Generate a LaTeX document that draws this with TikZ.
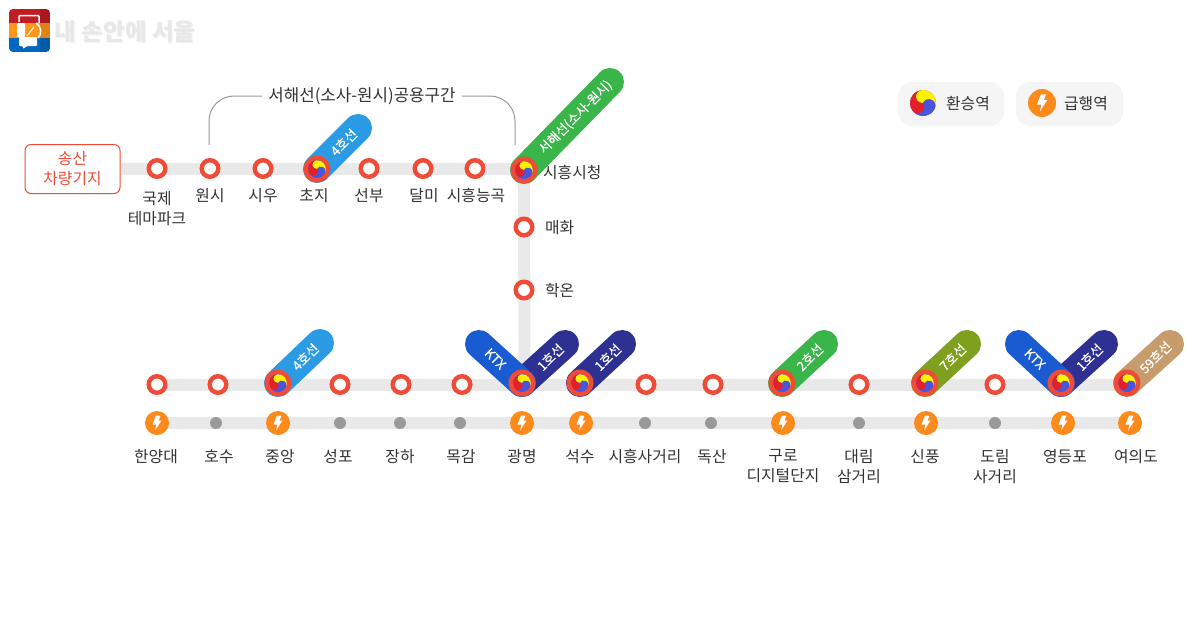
\documentclass[tikz,border=0pt]{standalone}
\usepackage{fontspec}
\setmainfont{Noto Sans CJK KR}
\newfontfamily\pillfont[FakeBold=0.4]{Noto Sans CJK KR}
\pgfdeclarelayer{bg}
\pgfsetlayers{bg,main}
\definecolor{rd}{HTML}{F04B37}
\definecolor{tk}{HTML}{E9E9E9}
\definecolor{ex}{HTML}{FF8A1C}
\definecolor{gy}{HTML}{999999}
\definecolor{tx}{HTML}{333333}
\definecolor{bl4}{HTML}{2B9BE5}
\definecolor{ktx}{HTML}{1B5BD2}
\definecolor{l1}{HTML}{2E3192}
\definecolor{gr}{HTML}{39B54A}
\definecolor{l7}{HTML}{7F9F1F}
\definecolor{l59}{HTML}{C69C6D}
\definecolor{ly}{HTML}{FFF200}
\definecolor{lr}{HTML}{E3202A}
\definecolor{lb}{HTML}{4A55DD}
\newcommand{\coma}[2]{\fill[#2] (0,0) arc[start angle=#1+180,delta angle=-180,radius=.5] arc[start angle=#1,delta angle=120,radius=1] arc[start angle=#1+120,delta angle=180,radius=.5] -- cycle;}
\tikzset{
 track/.style={draw=tk,line width=12pt},
 ringst/.style={circle,draw=rd,line width=4.4pt,fill=white,minimum size=16.6pt,inner sep=0pt},
 xferst/.style={circle,fill=rd,minimum size=27pt,inner sep=0pt},
 expst/.style={circle,fill=ex,minimum size=24pt,inner sep=0pt},
 dotst/.style={circle,fill=gy,minimum size=12pt,inner sep=0pt},
 lbl/.style={text=tx,font=\fontsize{15.8}{20}\selectfont,align=center,inner sep=0pt,anchor=north},
 sidelbl/.style={text=tx,font=\fontsize{15.8}{20}\selectfont,inner sep=0pt,anchor=west},
 pill/.style={line width=28pt,line cap=round,draw=#1},
 pilltxt/.style={text=white,font=\pillfont\fontsize{13}{13}\selectfont,inner sep=0pt},
 legbox/.style={fill=black!4,rounded corners=14pt,minimum height=44pt,inner sep=0pt},
 bracketln/.style={draw=gy,line width=1pt,rounded corners=25pt},
 taegeuk/.pic={\begin{scope}[x=8.8pt,y=8.8pt]\fill[lb] (0,0) circle (1);\coma{-25}{ly}\coma{215}{lb}\coma{95}{lr}\end{scope}},
 bolt/.pic={\fill[white] (-1,-7.5) -- (3.5,-7.5) -- (1.5,-2.5) -- (4.5,-2.5) -- (-2,7.5) -- (-.5,1.5) -- (-4.5,1.5) -- cycle;},
}
\newcommand{\pillline}[7]{% from node #1 to coord #2, colour #3, text #4, pos #5, rot #6, name #7
 \draw[pill=#3] (#1.center) -- (#2) node[pilltxt,pos=#5,rotate=#6] (#7) {#4};}
\begin{document}
\begin{tikzpicture}[x=1pt,y=-1pt]
\useasboundingbox (0,0) rectangle (1200,619);
% logo
\begin{scope}
 \clip[rounded corners=4pt] (9,9) rectangle (50,52);
 \fill[lr!85!black] (9,9) rectangle (50,23);
 \fill[ex!90!yellow] (9,23) rectangle (50,38);
 \fill[blue!45!cyan!75!black] (9,38) rectangle (50,52);
 \fill[black,opacity=.12] (40,9) rectangle (50,52);
 \draw[white,line width=1.5pt,rounded corners=1pt] (19,22) -- (19,15.5) -- (39,15.5) -- (39,23);
 \draw[white,line width=1.5pt] (36,23) .. controls (42,27) and (42,34) .. (38,38);
 \fill[white,rounded corners=1pt] (17,23) rectangle (25,37);
 \draw[white,line width=1pt] (27,36) -- (34,27);
 \fill[white,rounded corners=1pt] (19,37) -- (19,46) -- (23,46) -- (23,49) -- (27,46) -- (37,46) -- (37,37) -- cycle;
\end{scope}
\node[inner sep=0pt,text=black!5,font=\fontsize{23.5}{25}\selectfont\bfseries] at (126,33) {내 손안에 서울};
\node[inner sep=0pt,text=black!9,font=\fontsize{23.5}{25}\selectfont\bfseries] (logotext) at (125,32) {내 손안에 서울};
% legend
\node[legbox,minimum width=106pt] (legA) at (951,104) {};
\node[legbox,minimum width=107pt] (legB) at (1069.5,104) {};
\node[sidelbl] (legAt) at (946,103.5) {환승역};
\node[sidelbl] (legBt) at (1064,103.5) {급행역};
\pic[scale=1.48] at (923,103) {taegeuk};
\node[expst,minimum size=28pt] (legE) at (1042,103) {};
\pic[scale=1.15] at (legE) {bolt};
% depot
\node[draw=rd,line width=1pt,rounded corners=6pt,fill=white,minimum width=95pt,minimum height=49pt,inner sep=0pt,text=rd,align=center,font=\fontsize{15.8}{20}\selectfont] (depot) at (72.5,169) {송산\\차량기지};
% top row
\foreach \n/\x in {a1/157,a2/210,a3/263,a5/369,a6/423,a7/475}{\node[ringst] (\n) at (\x,168.5) {};}
\node[xferst] (a4) at (317,169) {};
\node[xferst] (a8) at (524,170) {};
\node[ringst] (v1) at (524,227) {};
\node[ringst] (v2) at (524,290) {};
\node[lbl] (a1t) at (157,191.5) {국제\\테마파크};
\node[lbl] (a2t) at (210,188.5) {원시};
\node[lbl] (a3t) at (263,188.5) {시우};
\node[lbl] (a4t) at (314,188.5) {초지};
\node[lbl] (a5t) at (369,188.5) {선부};
\node[lbl] (a6t) at (424,188.5) {달미};
\node[lbl] (a7t) at (476,188.5) {시흥능곡};
\node[sidelbl] (a8t) at (543,172.5) {시흥시청};
\node[sidelbl] (v1t) at (545,227.5) {매화};
\node[sidelbl] (v2t) at (545,290.5) {학온};
% second row
\foreach \n/\x in {b1/157,b2/218,b4/340,b5/401,b6/462,b9/646,b10/713,b12/859,b14/995}{\node[ringst] (\n) at (\x,384.5) {};}
\foreach \n/\x in {b3/278,b7/522,b8/580,b11/782,b13/925,b15/1061,b16/1127}{\node[xferst] (\n) at (\x,383) {};}
% third row
\foreach \n/\x in {c1/157,c3/278,c7/522,c8/581,c11/783,c13/926,c15/1063,c16/1130}{\node[expst] (\n) at (\x,423) {}; \pic at (\n) {bolt};}
\foreach \n/\x in {c2/216,c4/340,c5/400,c6/460,c9/645,c10/711,c12/859,c14/995}{\node[dotst] (\n) at (\x,423) {};}
\foreach \n/\x/\t in {c1/156/한양대,c2/219/호수,c3/280/중앙,c4/338/성포,c5/400/장하,c6/461/목감,c7/522/광명,c8/580/석수,c9/645/시흥사거리,c10/712/독산,c11/783/구로\\디지털단지,c12/859/대림\\삼거리,c13/925/신풍,c14/995/도림\\사거리,c15/1065/영등포,c16/1136/여의도}{\node[lbl] (\n t) at (\x,449.5) {\t};}
% bracket
\node[text=tx,font=\fontsize{16.8}{20}\selectfont,inner sep=6pt] (brk) at (362,96) {서해선(소사-원시)공용구간};
\coordinate (brkL) at (209,145);
\coordinate (brkR) at (515,145);
\draw[bracketln] (brk.west) -| (brkL);
\draw[bracketln] (brk.east) -| (brkR);
% pill ends and track ends
\coordinate (p4a) at (358,128);
\coordinate (pS) at (610,82);
\coordinate (p4b) at (320,343);
\coordinate (pK1) at (479,344);
\coordinate (p11) at (565,344);
\coordinate (p12) at (622,344);
\coordinate (p2) at (824,344);
\coordinate (p7) at (967,344);
\coordinate (pK2) at (1019,344);
\coordinate (p13) at (1104,344);
\coordinate (p59) at (1170,344);
\coordinate (tkS) at (121,169);
\coordinate (tkE) at (524,169);
\coordinate (tkV) at (524.5,384);
\coordinate (tk2R) at (1127,384.5);
\begin{pgfonlayer}{bg}
 \draw[track] (tkS) -- (tkE);
 \draw[track] (a8.center) -- (tkV);
 \draw[track] (b1.center) -- (tk2R);
 \draw[track] (c1.center) -- (c16.center);
 \pillline{b7}{p11}{l1}{1호선}{.66}{45}{t1}
 \pillline{b7}{pK1}{ktx}{KTX}{.62}{-45}{t2}
 \pillline{a4}{p4a}{bl4}{4호선}{.65}{45}{t3}
 \pillline{a8}{pS}{gr}{서해선(소사-원시)}{.6}{45}{t4}
 \pillline{b3}{p4b}{bl4}{4호선}{.65}{45}{t5}
 \pillline{b8}{p12}{l1}{1호선}{.66}{45}{t6}
 \pillline{b11}{p2}{gr}{2호선}{.66}{45}{t7}
 \pillline{b13}{p7}{l7}{7호선}{.66}{45}{t8}
 \pillline{b15}{p13}{l1}{1호선}{.66}{45}{t9}
 \pillline{b15}{pK2}{ktx}{KTX}{.62}{-45}{t10}
 \pillline{b16}{p59}{l59}{59호선}{.66}{45}{t11}
\end{pgfonlayer}
\foreach \n in {a4,a8,b3,b7,b8,b11,b13,b15,b16}{\pic at (\n) {taegeuk};}
\end{tikzpicture}
\end{document}
